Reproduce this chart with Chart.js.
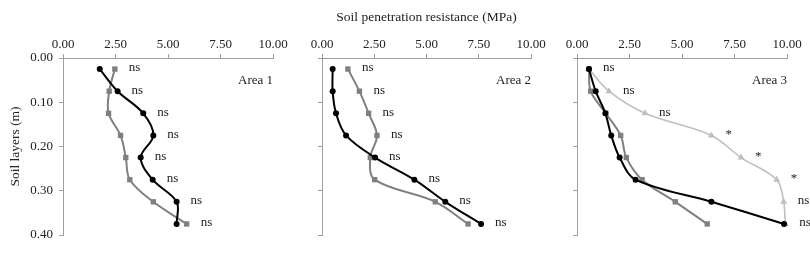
<!DOCTYPE html>
<html>
<head>
<meta charset="utf-8">
<script src="https://cdn.jsdelivr.net/npm/chart.js@4.4.1/dist/chart.umd.min.js"></script>
<style>
  html, body { margin: 0; padding: 0; background: #fff; }
  #wrap { position: relative; width: 810px; height: 258px; overflow: hidden; }
  .panel { position: absolute; top: 0; height: 258px; }
</style>
</head>
<body>
<div id="wrap">
  <div class="panel" style="left:0px;width:293px"><canvas id="area1"></canvas></div>
  <div class="panel" style="left:300px;width:254px"><canvas id="area2"></canvas></div>
  <div class="panel" style="left:555px;width:255px"><canvas id="area3"></canvas></div>
</div>
<script>
const layers = [0.025, 0.075, 0.125, 0.175, 0.225, 0.275, 0.325, 0.375];
const xTicks = [0, 2.5, 5, 7.5, 10];
const yTicks = [0, 0.1, 0.2, 0.3, 0.4];

const area1Black = [1.75, 2.6, 3.82, 4.3, 3.7, 4.27, 5.41, 5.41];
const area1Gray = [2.47, 2.2, 2.17, 2.74, 2.99, 3.18, 4.3, 5.89];
const area1Marks = ['ns', 'ns', 'ns', 'ns', 'ns', 'ns', 'ns', 'ns'];

const area2Black = [0.51, 0.51, 0.67, 1.15, 2.54, 4.42, 5.9, 7.61];
const area2Gray = [1.24, 1.79, 2.23, 2.63, 2.31, 2.52, 5.42, 6.99];
const area2Marks = ['ns', 'ns', 'ns', 'ns', 'ns', 'ns', 'ns', 'ns'];

const area3Black = [0.57, 0.89, 1.35, 1.63, 2.03, 2.79, 6.4, 9.86];
const area3Gray = [0.57, 0.65, 1.37, 2.08, 2.35, 3.1, 4.68, 6.2];
const area3Light = [0.57, 1.52, 3.24, 6.4, 7.81, 9.51, 9.84, 9.92];
const area3Marks = ['ns', 'ns', 'ns', '*', '*', '*', 'ns', 'ns'];

const FONT = 'Liberation Serif';
const AXIS = '#a0a0a0';
const TEXT = '#222';

// ns / * marks beside each layer, plus the "Area n" caption
const sigLabels = {
    id: 'sigLabels',
    afterDatasetsDraw(chart, args, opts) {
        const ctx = chart.ctx;
        const x = chart.scales.x;
        const y = chart.scales.y;
        ctx.save();
        ctx.fillStyle = TEXT;
        ctx.font = '13px "' + FONT + '"';
        ctx.textBaseline = 'middle';
        ctx.textAlign = 'left';
        opts.marks.forEach((m, i) => {
            const maxVal = Math.max(...opts.series.map(s => s[i]));
            ctx.fillText(m, x.getPixelForValue(maxVal) + 14, y.getPixelForValue(layers[i]) - 1);
        });
        ctx.textAlign = 'right';
        ctx.fillText(opts.area, chart.chartArea.right, 81);
        ctx.restore();
    }
};

function toPoints(values) {
    return values.map((v, i) => ({ x: v, y: layers[i] }));
}

function buildDataset(values, kind) {
    const styles = {
        black: { color: '#000000', point: 'circle', radius: 3, width: 2 },
        gray: { color: '#808080', point: 'rect', radius: 3.8, width: 2 },
        light: { color: '#bfbfbf', point: 'triangle', radius: 4, width: 1.6 }
    };
    const s = styles[kind];
    return {
        data: toPoints(values),
        borderColor: s.color,
        backgroundColor: s.color,
        borderWidth: s.width,
        pointStyle: s.point,
        pointRadius: s.radius,
        pointBorderWidth: 0,
        tension: 0.35,
        clip: false
    };
}

function buildPanel(id, datasets, marks, series, area, opts) {
    const ctx = document.getElementById(id).getContext('2d');
    return new Chart(ctx, {
        type: 'line',
        data: { datasets: datasets },
        plugins: [sigLabels],
        options: {
            responsive: true,
            maintainAspectRatio: false,
            animation: false,
            layout: { padding: { left: 0, right: opts.padRight, top: 0, bottom: 23 } },
            plugins: {
                legend: { display: false },
                tooltip: { enabled: false },
                sigLabels: { marks: marks, series: series, area: area }
            },
            scales: {
                x: {
                    type: 'linear',
                    position: 'top',
                    min: 0,
                    max: 10,
                    afterBuildTicks: s => { s.ticks = xTicks.map(v => ({ value: v })); },
                    afterFit: s => { s.height = 58; },
                    ticks: {
                        color: TEXT,
                        font: { family: FONT, size: 13 },
                        padding: 2,
                        maxRotation: 0,
                        callback: v => v.toFixed(2)
                    },
                    grid: { drawOnChartArea: false, drawTicks: true, tickLength: 4, color: AXIS },
                    border: { color: AXIS, width: 1 },
                    title: {
                        display: opts.xTitle,
                        text: 'Soil penetration resistance (MPa)',
                        color: TEXT,
                        font: { family: FONT, size: 13.5 },
                        padding: { top: 9, bottom: 0 }
                    }
                },
                y: {
                    type: 'linear',
                    reverse: true,
                    min: 0,
                    max: 0.4,
                    afterBuildTicks: s => { s.ticks = yTicks.map(v => ({ value: v })); },
                    afterFit: s => { s.width = opts.yWidth; },
                    ticks: {
                        color: TEXT,
                        font: { family: FONT, size: 13 },
                        padding: 6,
                        callback: v => opts.yLabels ? v.toFixed(2) : ''
                    },
                    grid: { drawOnChartArea: false, drawTicks: true, tickLength: 4, color: AXIS },
                    border: { color: AXIS, width: 1 },
                    title: {
                        display: opts.yLabels,
                        text: 'Soil layers (m)',
                        color: TEXT,
                        font: { family: FONT, size: 13.5 },
                        padding: { top: 7, bottom: 0 }
                    }
                }
            }
        }
    });
}

window.addEventListener('load', () => {
    buildPanel('area1',
        [buildDataset(area1Black, 'black'), buildDataset(area1Gray, 'gray')],
        area1Marks, [area1Black, area1Gray], 'Area 1',
        { yWidth: 63, yLabels: true, xTitle: false, padRight: 20 });
    buildPanel('area2',
        [buildDataset(area2Black, 'black'), buildDataset(area2Gray, 'gray')],
        area2Marks, [area2Black, area2Gray], 'Area 2',
        { yWidth: 22, yLabels: false, xTitle: true, padRight: 23 });
    buildPanel('area3',
        [buildDataset(area3Black, 'black'), buildDataset(area3Gray, 'gray'), buildDataset(area3Light, 'light')],
        area3Marks, [area3Black, area3Gray, area3Light], 'Area 3',
        { yWidth: 22, yLabels: false, xTitle: false, padRight: 23 });
});
</script>
</body>
</html>
